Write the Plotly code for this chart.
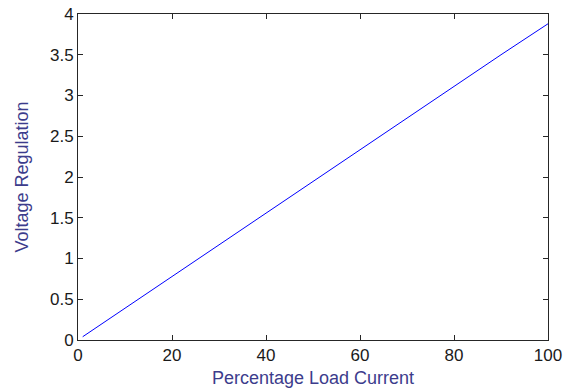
import plotly.graph_objects as go

load_pct = [1, 10, 20, 30, 40, 50, 60, 70, 80, 90, 100]
regulation = [0.04, 0.39, 0.78, 1.17, 1.56, 1.95, 2.33, 2.72, 3.11, 3.50, 3.88]

x_ticks = [0, 20, 40, 60, 80, 100]
y_ticks = [0, 0.5, 1, 1.5, 2, 2.5, 3, 3.5, 4]

FONT = "Liberation Sans, Arial"

fig = go.Figure(go.Scatter(x=load_pct, y=regulation, mode="lines",
                           line=dict(color="#0000ff", width=1)))

axis_common = dict(showgrid=False, zeroline=False, showline=True, linecolor="#262626",
                   linewidth=1, mirror="ticks", ticks="inside", ticklen=5,
                   tickcolor="#262626", tickfont=dict(family=FONT, size=17, color="#1a1a1a"))

fig.update_xaxes(range=[0, 100], tickvals=x_ticks, ticktext=[str(v) for v in x_ticks],
                 title=dict(text="Percentage Load Current", standoff=6,
                            font=dict(family=FONT, size=18, color="#3c3c8c")),
                 **axis_common)
fig.update_yaxes(range=[0, 4], tickvals=y_ticks, ticktext=[("%g" % v) for v in y_ticks],
                 title=dict(text="Voltage Regulation", standoff=16,
                            font=dict(family=FONT, size=18, color="#3c3c8c")),
                 **axis_common)

fig.update_layout(width=571, height=392, margin=dict(l=78, r=23, t=14, b=52, autoexpand=False),
                  plot_bgcolor="white", paper_bgcolor="white", showlegend=False)

fig.write_html("out.html", config={"displayModeBar": False},
               post_script="document.body.style.margin='0';")
